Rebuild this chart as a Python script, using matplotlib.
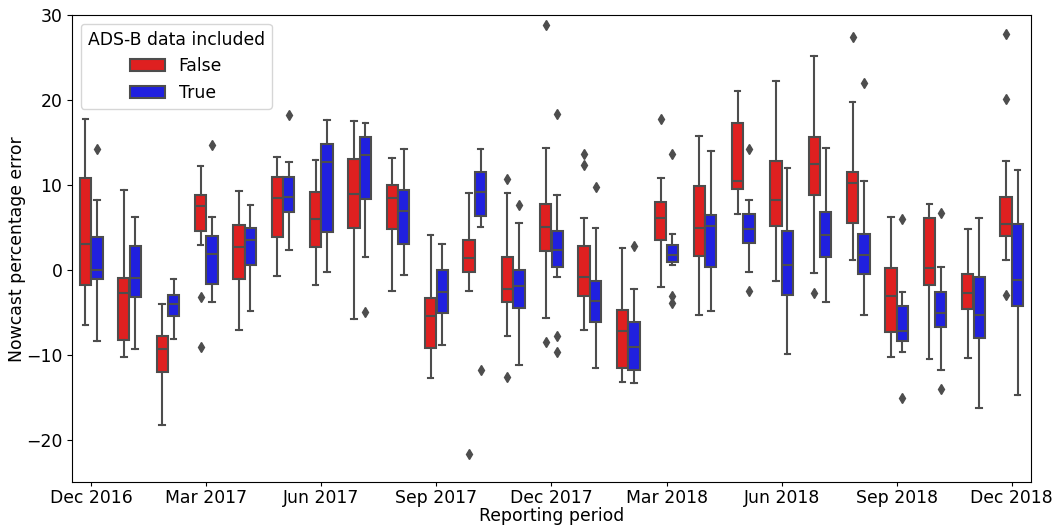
import colorsys

import matplotlib
matplotlib.use("Agg")
import matplotlib.pyplot as plt
from matplotlib.patches import Patch

# Reporting periods (monthly)
periods = [
    "Dec 2016", "Jan 2017", "Feb 2017", "Mar 2017", "Apr 2017", "May 2017",
    "Jun 2017", "Jul 2017", "Aug 2017", "Sep 2017", "Oct 2017", "Nov 2017",
    "Dec 2017", "Jan 2018", "Feb 2018", "Mar 2018", "Apr 2018", "May 2018",
    "Jun 2018", "Jul 2018", "Aug 2018", "Sep 2018", "Oct 2018", "Nov 2018",
    "Dec 2018",
]
tick_labels = ["Dec 2016", "Mar 2017", "Jun 2017", "Sep 2017", "Dec 2017",
               "Mar 2018", "Jun 2018", "Sep 2018", "Dec 2018"]

# Box statistics without ADS-B data
false_whislo = [-6.5, -10.2, -18.2, 2.9, -7.0, -0.7, -1.7, -5.8, -2.4, -12.7,
                -2.5, -7.7, -5.6, -7.0, -13.2, -2.0, -5.3, 6.6, -1.3, -0.3,
                1.2, -10.2, -10.5, -10.3, 1.2]
false_q1 = [-1.8, -8.2, -12.0, 4.6, -1.0, 3.9, 2.7, 4.9, 4.8, -9.2,
            -0.2, -3.8, 2.2, -3.0, -11.5, 3.5, 1.7, 9.5, 5.2, 8.8,
            5.5, -7.3, -1.7, -4.6, 4.0]
false_med = [3.1, -2.7, -9.3, 7.6, 2.7, 8.5, 6.0, 9.0, 8.5, -5.4,
             1.4, -2.2, 5.1, -0.8, -7.2, 6.1, 5.0, 10.5, 8.3, 12.5,
             10.2, -3.1, 0.2, -2.7, 5.4]
false_q3 = [10.8, -0.9, -7.8, 8.9, 5.3, 11.0, 9.2, 13.1, 10.0, -3.3,
            3.6, 1.5, 7.8, 2.8, -4.7, 8.0, 9.9, 17.3, 12.8, 15.7,
            11.5, 0.3, 6.1, -0.5, 8.6]
false_whishi = [17.8, 9.4, -4.0, 12.2, 9.3, 13.3, 13.0, 17.5, 13.2, 4.1,
                9.1, 9.1, 14.4, 6.1, 2.6, 10.8, 15.8, 21.1, 22.3, 25.2,
                19.8, 6.2, 7.8, 4.8, 12.9]
false_fliers = [[], [], [], [-3.2, -9.1], [], [], [], [], [], [],
                [-21.7], [10.7, -12.6], [28.9, -8.5], [13.7, 12.4], [], [17.8],
                [], [], [], [-2.7], [27.4], [], [], [], [27.8, 20.2, -2.9]]

# Box statistics with ADS-B data
true_whislo = [-8.4, -9.3, -8.1, -3.8, -4.8, 2.4, -0.2, 1.6, -0.6, -8.8,
               5.1, -11.2, -0.8, -11.5, -13.3, 0.6, -4.8, -0.2, -9.9, -3.8,
               -5.3, -9.6, -11.7, -16.2, -14.7]
true_q1 = [-1.1, -3.2, -5.4, -1.6, 0.6, 6.8, 4.5, 8.4, 3.1, -5.0,
           6.4, -4.5, 0.4, -6.1, -11.7, 0.9, 0.4, 3.2, -2.9, 1.5,
           -0.5, -8.3, -6.7, -8.0, -4.2]
true_med = [0.0, -0.9, -4.0, 1.9, 3.5, 8.6, 12.7, 13.6, 6.9, -2.6,
            9.2, -1.9, 2.4, -3.6, -9.0, 1.8, 5.2, 4.8, 0.6, 4.1,
            1.8, -7.2, -5.1, -5.3, -1.2]
true_q3 = [3.9, 2.8, -2.9, 4.0, 4.9, 11.0, 14.8, 15.7, 9.4, 0.0,
           11.6, 0.0, 4.6, -1.3, -6.1, 2.9, 6.5, 6.6, 4.6, 6.8,
           4.3, -4.2, -2.6, -0.8, 5.4]
true_whishi = [8.2, 6.3, -1.1, 6.2, 7.7, 12.7, 17.7, 17.3, 14.3, 3.1,
               14.2, 5.5, 8.8, 4.9, -2.2, 4.2, 14.0, 8.3, 12.0, 14.4,
               10.5, -2.6, 0.4, 6.1, 11.8]
true_fliers = [[14.2], [], [], [14.7], [], [18.2], [], [-4.9], [], [],
               [-11.8], [7.7], [18.4, -7.8, -9.6], [9.8], [2.8],
               [13.7, -3.0, -3.9], [], [14.2, -2.5], [], [], [22.0],
               [6.0, -15.0], [6.7, -14.0], [], []]

hue_labels = ["False", "True"]
base_colors = [(1.0, 0.0, 0.0), (0.0, 0.0, 1.0)]


def desaturate(rgb, prop=0.75):
    h, l, s = colorsys.rgb_to_hls(*rgb)
    return colorsys.hls_to_rgb(h, l, s * prop)


fill_colors = [desaturate(c) for c in base_colors]
light = min(colorsys.rgb_to_hls(*c)[1] for c in fill_colors) * 0.6
line_gray = (light, light, light)


def make_stats(lo, q1, med, q3, hi, fl):
    return [dict(whislo=a, q1=b, med=c, q3=d, whishi=e, fliers=f)
            for a, b, c, d, e, f in zip(lo, q1, med, q3, hi, fl)]


series = [
    make_stats(false_whislo, false_q1, false_med, false_q3, false_whishi, false_fliers),
    make_stats(true_whislo, true_q1, true_med, true_q3, true_whishi, true_fliers),
]

FS = 12.4
plt.rcParams["font.family"] = ["DejaVu Sans"]
plt.rcParams["font.size"] = FS

fig = plt.figure(figsize=(10.62, 5.26), dpi=100)
ax = fig.add_axes([0.0678, 0.0827, 0.9030, 0.8883])

n = len(periods)
offsets = [-0.15, 0.15]
box_w = 0.3 * 0.98
for stats, off, fc in zip(series, offsets, fill_colors):
    pos = [i + off for i in range(n)]
    ax.bxp(
        stats, positions=pos, widths=box_w, patch_artist=True,
        showfliers=True, manage_ticks=False,
        boxprops=dict(facecolor=fc, edgecolor=line_gray, linewidth=1.5),
        medianprops=dict(color=line_gray, linewidth=1.5),
        whiskerprops=dict(color=line_gray, linewidth=1.5),
        capprops=dict(color=line_gray, linewidth=1.5),
        flierprops=dict(marker="d", markersize=5, markerfacecolor=line_gray,
                        markeredgecolor=line_gray, linestyle="none"),
    )

ax.set_xlim(-0.5, n - 0.5)
ax.set_ylim(-25, 30)
tick_pos = [periods.index(t) for t in tick_labels]
ax.set_xticks(tick_pos)
ax.set_xticklabels(tick_labels)
ax.set_yticks([-20, -10, 0, 10, 20, 30])
ax.set_yticklabels(["\u221220", "\u221210", "0", "10", "20", "30"])
ax.tick_params(labelsize=FS)
ax.tick_params(axis="x", length=3, pad=1.5)
ax.set_xlabel("Reporting period", fontsize=FS, labelpad=0)
ax.set_ylabel("Nowcast percentage error", fontsize=FS, labelpad=0)

handles = [Patch(facecolor=c, edgecolor=line_gray, linewidth=1.5) for c in fill_colors]
ax.legend(handles, hue_labels, title="ADS-B data included", loc="upper left",
          fontsize=FS, title_fontsize=FS)

fig.savefig("out.png", dpi=100)
